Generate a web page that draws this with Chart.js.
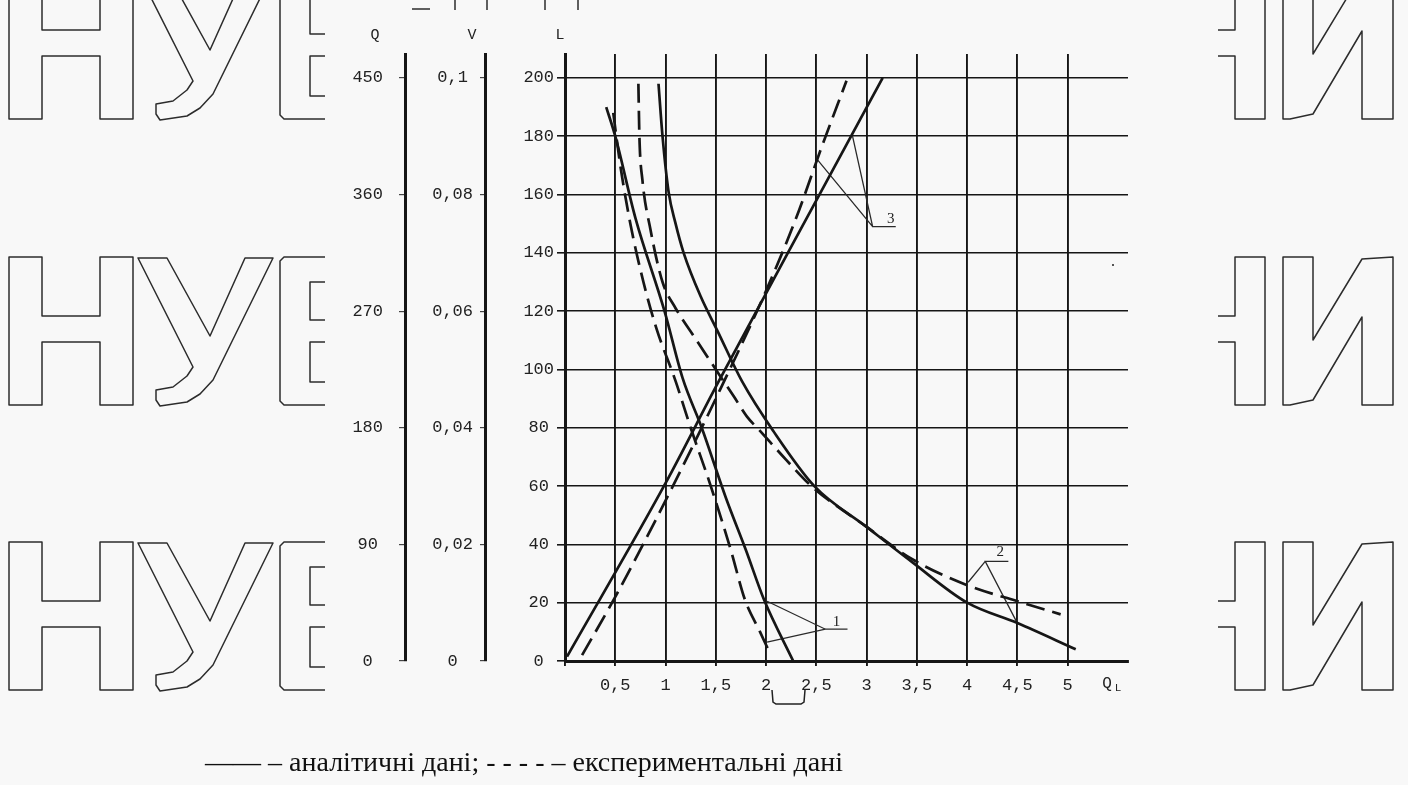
<!DOCTYPE html>
<html><head><meta charset="utf-8">
<script src="https://cdn.jsdelivr.net/npm/chart.js@4.4.0/dist/chart.umd.min.js"></script>
<style>html,body{margin:0;padding:0;background:#f8f8f8;}canvas{display:block;}</style>
</head><body>
<canvas id="c" width="1408" height="785"></canvas>
<script>
// ---------- data ----------
const xTicks = [0, 0.5, 1, 1.5, 2, 2.5, 3, 3.5, 4, 4.5, 5];
const xTickLabels = ['', '0,5', '1', '1,5', '2', '2,5', '3', '3,5', '4', '4,5', '5'];
const lTicks = [0, 20, 40, 60, 80, 100, 120, 140, 160, 180, 200];
const qTicks = [0, 90, 180, 270, 360, 450];
const vTicks = [0, 0.02, 0.04, 0.06, 0.08, 0.1];
const vTickLabels = ['0', '0,02', '0,04', '0,06', '0,08', '0,1'];

// curve 1 (steep decreasing)
const analytic1X = [0.41, 0.5, 0.7, 0.99, 1.17, 1.36, 1.6, 1.8, 1.98, 2.27];
const analytic1Y = [190, 180, 152, 120, 97, 80, 56, 38, 21, 0];
const experiment1X = [0.48, 0.55, 0.65, 0.78, 0.91, 1.1, 1.25, 1.45, 1.65, 1.79, 1.94, 2.02];
const experiment1Y = [188, 170, 150, 130, 114, 96, 80, 60, 38, 21, 10, 4];
// curve 2 (hyperbolic decreasing)
const analytic2X = [0.93, 0.97, 1.03, 1.1, 1.18, 1.35, 1.52, 1.76, 2.07, 2.48, 3.0, 3.45, 4.0, 4.5, 5.08];
const analytic2Y = [198, 180, 161, 150, 140, 125, 113, 96, 79, 60, 46, 34, 20, 13, 4];
const experiment2X = [0.73, 0.74, 0.77, 0.85, 0.97, 1.1, 1.27, 1.5, 1.68, 1.81, 1.93, 2.2, 2.45, 3.0, 3.45, 4.0, 4.5, 4.93];
const experiment2Y = [198, 180, 165, 148, 130, 121, 112, 100, 90.7, 83.8, 79.3, 69, 60, 46, 35, 26, 20.5, 16];
// curve 3 (increasing)
const analytic3X = [0.02, 1, 1.53, 2.5, 3.16];
const analytic3Y = [1.5, 61, 96, 158, 200];
const experiment3X = [0.17, 0.5, 1, 1.5, 2, 2.3, 2.55, 2.8];
const experiment3Y = [2, 22, 55, 90, 127, 152, 176, 199];

// leader lines of the curve labels
const leader1X = [2.01, 2.59, 2.81, 2.59, 2.01];
const leader1Y = [20.5, 10.9, 10.9, 10.9, 6.5];
const leader2X = [4.01, 4.18, 4.41, 4.18, 4.49];
const leader2Y = [27, 34.2, 34.2, 34.2, 13.6];
const leader3X = [2.51, 3.06, 3.29, 3.06, 2.97, 2.86];
const leader3Y = [172, 149, 149, 149, 163, 180];
const curveLabels = ['1', '2', '3'];
const curveLabelX = [2.70, 4.33, 3.24];
const curveLabelY = [13.5, 37.5, 151.5];

const legendText = '—— – аналітичні дані; - - - - – експериментальні дані';

// ---------- helpers ----------
const INK = '#161616';
const pts = (xs, ys) => xs.map((x, i) => ({x: x, y: ys[i]}));
const curve = (xs, ys, dashed) => ({
  data: pts(xs, ys), showLine: true, borderColor: INK, borderWidth: 2.7,
  pointRadius: 0, cubicInterpolationMode: 'monotone', borderDash: dashed ? [19, 8] : [],
  xAxisID: 'x', yAxisID: 'yL'
});
const leader = (xs, ys) => ({
  data: pts(xs, ys), showLine: true, borderColor: '#2a2a2a', borderWidth: 1.3,
  pointRadius: 0, tension: 0, xAxisID: 'x', yAxisID: 'yL'
});
const mono = {family: '"Liberation Mono", "DejaVu Sans Mono", monospace', size: 17};
const fixW = w => (s => { s.width = w; });
const LMAX = 208.2;

function path(ctx, p, close) {
  ctx.beginPath();
  p.forEach((q, i) => i ? ctx.lineTo(q[0], q[1]) : ctx.moveTo(q[0], q[1]));
  if (close) ctx.closePath();
  ctx.stroke();
}

function drawWatermark(ctx) {
  ctx.save();
  ctx.strokeStyle = '#2c2c2c';
  ctx.lineWidth = 1.5;
  ctx.lineJoin = 'round';
  [-29, 257, 542].forEach(T => {
    const B = T + 148;
    // Н
    path(ctx, [[9,T],[42,T],[42,T+59],[100,T+59],[100,T],[133,T],[133,B],[100,B],[100,T+85],[42,T+85],[42,B],[9,B]], true);
    // У
    path(ctx, [[138,T+1],[167,T+1],[210,T+79],[245,T+1],[273,T+1],[213,T+123],[200,T+137],[187,T+145],[160,T+149],[156,T+143],[156,T+133],[173,T+130],[187,T+119],[193,T+110]], true);
    // Б (cut)
    path(ctx, [[325,T],[284,T],[280,T+4],[280,B-4],[284,B],[325,B]], false);
    path(ctx, [[325,T+25],[310,T+25],[310,T+63],[325,T+63]], false);
    path(ctx, [[325,T+85],[310,T+85],[310,T+125],[325,T+125]], false);
    // right: Н (cut) + И
    path(ctx, [[1218,T+59],[1235,T+59],[1235,T],[1265,T],[1265,B],[1235,B],[1235,T+85],[1218,T+85]], false);
    path(ctx, [[1283,T],[1313,T],[1313,T+83],[1362,T+2],[1393,T],[1393,B],[1362,B],[1362,T+60],[1313,T+143],[1290,B],[1283,B]], true);
  });
  // remnants at the very top
  path(ctx, [[412,9],[430,9]], false);
  path(ctx, [[455,0],[455,10]], false);
  path(ctx, [[487,0],[487,10]], false);
  path(ctx, [[545,0],[545,10]], false);
  path(ctx, [[578,0],[578,10]], false);
  ctx.restore();
}

const deco = {
  id: 'deco',
  beforeDraw(chart) {
    const ctx = chart.ctx;
    ctx.save();
    ctx.fillStyle = '#f8f8f8';
    ctx.fillRect(0, 0, chart.width, chart.height);
    ctx.restore();
    drawWatermark(ctx);
  },
  afterDraw(chart) {
    const ctx = chart.ctx, sx = chart.scales.x, sy = chart.scales.yL;
    const top = chart.chartArea.top;
    ctx.save();
    ctx.fillStyle = '#222';
    ctx.font = '15px "Liberation Mono", monospace';
    ctx.textAlign = 'center';
    ctx.textBaseline = 'middle';
    ctx.fillText('Q', chart.scales.yQ.right - 30, top - 19);
    ctx.fillText('V', chart.scales.yV.right - 13, top - 19);
    ctx.fillText('L', chart.scales.yL.right - 5, top - 19);
    // x axis name
    ctx.font = '16px "Liberation Mono", monospace';
    ctx.fillText('Q', sx.right - 21, chart.chartArea.bottom + 23);
    ctx.font = '11px "Liberation Mono", monospace';
    ctx.fillText('L', sx.right - 10, chart.chartArea.bottom + 27);
    // curve labels
    ctx.font = '15px "Liberation Serif", serif';
    curveLabels.forEach((t, i) => {
      ctx.fillText(t, sx.getPixelForValue(curveLabelX[i]), sy.getPixelForValue(curveLabelY[i]));
    });
    // legend line of the figure
    ctx.font = '28px "Liberation Serif", "Times New Roman", serif';
    ctx.fillStyle = '#111';
    ctx.textBaseline = 'alphabetic';
    ctx.fillText(legendText, 524, 771);
    // small bracket mark below the axis
    ctx.strokeStyle = '#222';
    ctx.lineWidth = 1.5;
    path(ctx, [[772,690],[773,702],[776,704],[801,704],[804,702],[805,690]], false);
    ctx.fillStyle = '#555';
    ctx.fillRect(1112, 264, 2, 2);
    ctx.restore();
  }
};

new Chart(document.getElementById('c'), {
  type: 'scatter',
  data: {
    datasets: [
      curve(analytic1X, analytic1Y, false),
      curve(experiment1X, experiment1Y, true),
      curve(analytic2X, analytic2Y, false),
      curve(experiment2X, experiment2Y, true),
      curve(analytic3X, analytic3Y, false),
      curve(experiment3X, experiment3Y, true),
      leader(leader1X, leader1Y),
      leader(leader2X, leader2Y),
      leader(leader3X, leader3Y)
    ]
  },
  options: {
    responsive: false,
    devicePixelRatio: 1,
    animation: false,
    layout: {padding: {left: 325, right: 280, top: 54, bottom: 84}},
    plugins: {legend: {display: false}, tooltip: {enabled: false}},
    scales: {
      x: {
        type: 'linear', position: 'bottom', min: 0, max: 5.6,
        afterBuildTicks: s => { s.ticks = xTicks.map(v => ({value: v})); },
        afterFit: s => { s.height = 40; },
        ticks: {callback: (v, i) => xTickLabels[i], font: mono, color: '#222', padding: 9, autoSkip: false, maxRotation: 0},
        grid: {color: INK, lineWidth: 1.9, tickLength: 5},
        border: {display: true, color: INK, width: 3}
      },
      yL: {
        type: 'linear', position: 'left', weight: 0, min: 0, max: LMAX,
        afterBuildTicks: s => { s.ticks = lTicks.map(v => ({value: v})); },
        afterFit: fixW(80),
        ticks: {font: mono, color: '#222', padding: 3, crossAlign: 'center', autoSkip: false},
        grid: {color: INK, lineWidth: 1.6, tickLength: 8},
        border: {display: true, color: INK, width: 3}
      },
      yV: {
        type: 'linear', position: 'left', weight: 1, min: 0, max: LMAX / 2000,
        afterBuildTicks: s => { s.ticks = vTicks.map(v => ({value: v})); },
        afterFit: fixW(80),
        ticks: {callback: (v, i) => vTickLabels[i], font: mono, color: '#222', padding: 7, crossAlign: 'center', autoSkip: false},
        grid: {drawOnChartArea: false, color: '#444', lineWidth: 1.2, tickLength: 5},
        border: {display: true, color: INK, width: 3}
      },
      yQ: {
        type: 'linear', position: 'left', weight: 2, min: 0, max: LMAX * 2.25,
        afterBuildTicks: s => { s.ticks = qTicks.map(v => ({value: v})); },
        afterFit: fixW(80),
        ticks: {font: mono, color: '#222', padding: 16, crossAlign: 'center', autoSkip: false},
        grid: {drawOnChartArea: false, color: '#444', lineWidth: 1.2, tickLength: 6},
        border: {display: true, color: INK, width: 3}
      }
    }
  },
  plugins: [deco]
});
</script>
</body></html>
